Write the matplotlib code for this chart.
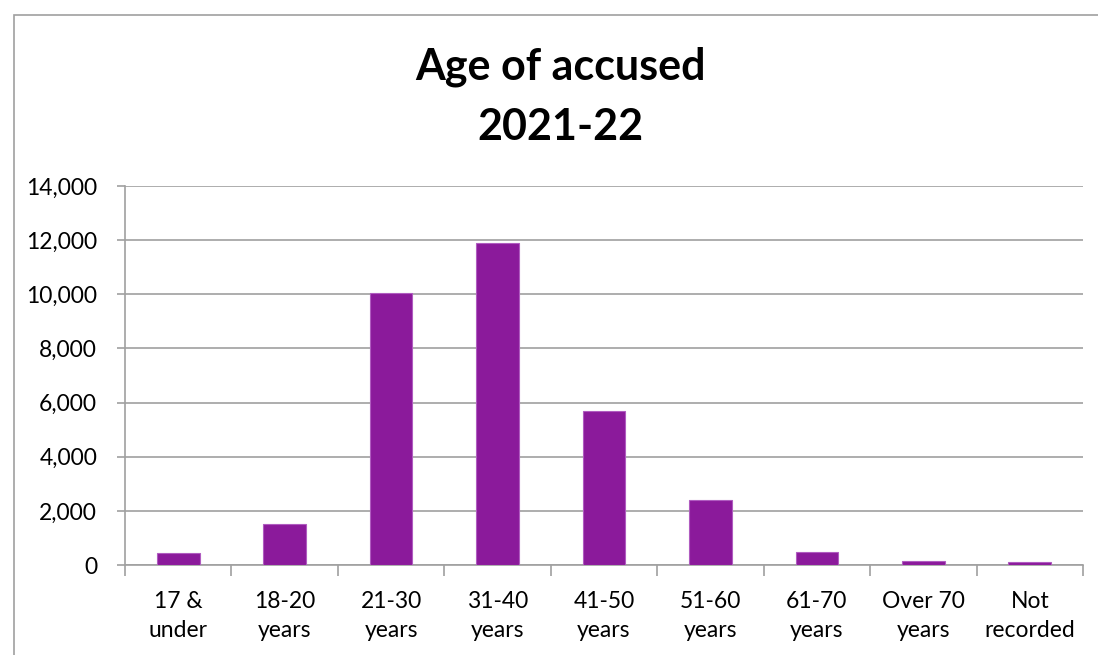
import matplotlib.pyplot as plt
import numpy as np
from matplotlib.patches import Rectangle

plt.rcParams['font.family'] = ['Lato', 'DejaVu Sans']

# data
categories = ['17 &\nunder', '18-20\nyears', '21-30\nyears', '31-40\nyears', '41-50\nyears',
              '51-60\nyears', '61-70\nyears', 'Over 70\nyears', 'Not\nrecorded']
accused = [444, 1519, 10040, 11880, 5700, 2410, 495, 150, 125]

fig = plt.figure(figsize=(10.98, 6.55), dpi=100)
ax = fig.add_axes([125/1098, 1 - 565/655, (1083 - 125)/1098, (565 - 186)/655])

x = np.arange(len(categories))
ax.bar(x, accused, width=0.4, color='#8B1A9B', edgecolor='#B05CC0', linewidth=0.8, zorder=3)

ax.set_xlim(-0.5, len(categories) - 0.5)
ax.set_ylim(0, 14000)
ax.set_yticks(range(0, 14001, 2000))
ax.set_yticklabels([f'{v:,}' for v in range(0, 14001, 2000)], fontsize=16.5)
ax.yaxis.grid(True, color='#A0A0A0', linewidth=1.2, zorder=0)

# labels at centres, ticks at category boundaries
ax.set_xticks(x)
ax.set_xticklabels(categories, fontsize=16.5, linespacing=1.45)
ax.tick_params(axis='x', length=0, pad=19)
ax.set_xticks(np.arange(-0.5, len(categories)), minor=True)
ax.tick_params(axis='x', which='minor', length=8, color='#A0A0A0', width=1.2)
ax.tick_params(axis='y', length=6, color='#A0A0A0', width=1.2, pad=14)

for s in ['top', 'right']:
    ax.spines[s].set_visible(False)
for s in ['left', 'bottom']:
    ax.spines[s].set_color('#A0A0A0')
    ax.spines[s].set_linewidth(1.2)

fig.text(560/1098, 1 - 67/655, 'Age of accused', ha='center', va='center',
         fontsize=31, fontweight='bold')
fig.text(560/1098, 1 - 127/655, '2021-22', ha='center', va='center',
         fontsize=31, fontweight='bold')

# chart border
fig.patches.append(Rectangle((14/1098, -0.1), 1.2, 1 - 15/655 + 0.1, transform=fig.transFigure,
                             fill=False, edgecolor='#A0A0A0', linewidth=1.2))

fig.savefig('out.png', dpi=100)
